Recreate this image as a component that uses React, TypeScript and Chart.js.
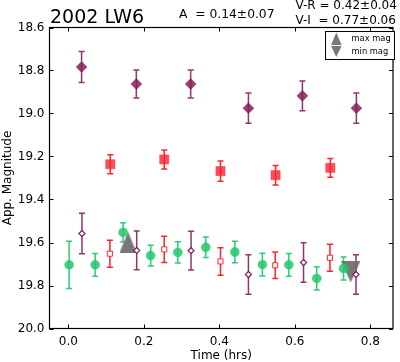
import React, { useEffect, useRef } from "react";
import { Chart, registerables } from "chart.js";

Chart.register(...registerables);

// ---------- data ----------
const xTickValues = [0.0, 0.2, 0.4, 0.6, 0.8];
const yTickValues = [18.6, 18.8, 19.0, 19.2, 19.4, 19.6, 19.8, 20.0];

// large purple diamonds
const bigDiamondTime = [0.035, 0.18, 0.324, 0.477, 0.62, 0.763];
const bigDiamondMag = [18.784, 18.863, 18.863, 18.975, 18.918, 18.975];
const bigDiamondErr = [0.072, 0.065, 0.065, 0.07, 0.069, 0.07];

// large red squares
const bigSquareTime = [0.111, 0.254, 0.403, 0.549, 0.694];
const bigSquareMag = [19.236, 19.214, 19.268, 19.287, 19.253];
const bigSquareErr = [0.044, 0.044, 0.047, 0.045, 0.044];

// green circles
const circleTime = [0.002, 0.071, 0.145, 0.218, 0.29, 0.364, 0.441, 0.514, 0.584, 0.658, 0.729];
const circleMag = [19.704, 19.704, 19.553, 19.661, 19.646, 19.622, 19.644, 19.703, 19.704, 19.767, 19.721];
const circleErr = [0.11, 0.053, 0.045, 0.048, 0.049, 0.048, 0.05, 0.053, 0.053, 0.054, 0.053];

// small open purple diamonds
const smallDiamondTime = [0.036, 0.181, 0.325, 0.477, 0.623, 0.762];
const smallDiamondMag = [19.558, 19.637, 19.638, 19.749, 19.693, 19.749];
const smallDiamondErr = [0.094, 0.09, 0.09, 0.092, 0.092, 0.092];

// small open red squares
const smallSquareTime = [0.11, 0.254, 0.403, 0.548, 0.693];
const smallSquareMag = [19.652, 19.632, 19.688, 19.706, 19.671];
const smallSquareErr = [0.063, 0.061, 0.064, 0.062, 0.063];

// max / min magnitude markers
const maxMagTime = [0.158];
const maxMagValue = [19.598];
const minMagTime = [0.748];
const minMagValue = [19.737];

const titleText = "2002 LW6";
const ampText = "A  = 0.14\u00b10.07";
const vrText = "V-R = 0.42\u00b10.04";
const viText = "V-I  = 0.77\u00b10.06";
const xTitle = "Time (hrs)";
const yTitle = "App. Magnitude";
const legendLabels = ["max mag", "min mag"];

const FONT = "'DejaVu Sans', 'Bitstream Vera Sans', sans-serif";
const GRAY = "rgba(105,105,105,0.9)";

const pts = (xs: number[], ys: number[]) => xs.map((x, i) => ({ x, y: ys[i] }));

function triangleCanvas(w: number, h: number, up: boolean, fill: string) {
  const c = document.createElement("canvas");
  c.width = w;
  c.height = h;
  const g = c.getContext("2d")!;
  g.fillStyle = fill;
  g.beginPath();
  if (up) {
    g.moveTo(w / 2, 0);
    g.lineTo(w, h);
    g.lineTo(0, h);
  } else {
    g.moveTo(0, 0);
    g.lineTo(w, 0);
    g.lineTo(w / 2, h);
  }
  g.closePath();
  g.fill();
  return c;
}

const errorBarsPlugin = {
  id: "errorBars",
  beforeDatasetsDraw(chart: any) {
    const ctx = chart.ctx;
    const ys = chart.scales.y;
    chart.data.datasets.forEach((ds: any, i: number) => {
      if (!ds.errors) return;
      const meta = chart.getDatasetMeta(i);
      ctx.save();
      ctx.strokeStyle = ds.errorColor;
      ctx.lineWidth = 1.5;
      meta.data.forEach((el: any, j: number) => {
        const v = ds.data[j].y;
        const e = ds.errors[j];
        const t = ys.getPixelForValue(v - e);
        const b = ys.getPixelForValue(v + e);
        const x = el.x;
        const cw = ds.capHalf || 3;
        ctx.beginPath();
        ctx.moveTo(x, t);
        ctx.lineTo(x, b);
        ctx.moveTo(x - cw, t);
        ctx.lineTo(x + cw, t);
        ctx.moveTo(x - cw, b);
        ctx.lineTo(x + cw, b);
        ctx.stroke();
      });
      ctx.restore();
    });
  },
};

const framePlugin = {
  id: "frame",
  afterDatasetsDraw(chart: any) {
    const { ctx, chartArea } = chart;
    const { left, right, top, bottom } = chartArea;
    const xs = chart.scales.x;
    const ys = chart.scales.y;
    ctx.save();
    ctx.strokeStyle = "#000";
    ctx.lineWidth = 1;
    ctx.beginPath();
    xTickValues.forEach((v) => {
      const p = Math.round(xs.getPixelForValue(v)) + 0.5;
      ctx.moveTo(p, bottom);
      ctx.lineTo(p, bottom - 4);
      ctx.moveTo(p, top);
      ctx.lineTo(p, top + 4);
    });
    yTickValues.forEach((v) => {
      const p = Math.round(ys.getPixelForValue(v)) + 0.5;
      ctx.moveTo(left, p);
      ctx.lineTo(left + 4, p);
      ctx.moveTo(right, p);
      ctx.lineTo(right - 4, p);
    });
    ctx.stroke();
    ctx.lineWidth = 1.2;
    ctx.strokeRect(left, top, right - left, bottom - top);
    ctx.restore();
  },
};

const decorPlugin = {
  id: "decor",
  afterDraw(chart: any) {
    const { ctx, chartArea } = chart;
    ctx.save();
    ctx.fillStyle = "#000";
    ctx.textBaseline = "alphabetic";
    ctx.textAlign = "left";
    ctx.font = `19px ${FONT}`;
    ctx.fillText(titleText, 50, 22.5);
    ctx.font = `12.3px ${FONT}`;
    ctx.fillText(ampText, 179, 17.5);
    ctx.font = `12px ${FONT}`;
    ctx.fillText(vrText, 295.5, 8.5);
    ctx.fillText(viText, 295.5, 24);

    // axis titles
    ctx.textAlign = "center";
    ctx.font = `12px ${FONT}`;
    ctx.fillText(xTitle, (chartArea.left + chartArea.right) / 2, 359);
    ctx.save();
    ctx.translate(10.5, (chartArea.top + chartArea.bottom) / 2);
    ctx.rotate(-Math.PI / 2);
    ctx.fillText(yTitle, 0, 0);
    ctx.restore();

    // legend box
    const lx = 325.5, ly = 31.5, lw = 69, lh = 28;
    ctx.fillStyle = "#fff";
    ctx.fillRect(lx, ly, lw, lh);
    ctx.strokeStyle = "#000";
    ctx.lineWidth = 1;
    ctx.strokeRect(lx, ly, lw, lh);
    ctx.fillStyle = GRAY;
    ctx.beginPath();
    ctx.moveTo(336.3, 32.5);
    ctx.lineTo(341.6, 45);
    ctx.lineTo(331, 45);
    ctx.closePath();
    ctx.fill();
    ctx.beginPath();
    ctx.moveTo(331, 46);
    ctx.lineTo(341.6, 46);
    ctx.lineTo(336.3, 57);
    ctx.closePath();
    ctx.fill();
    ctx.fillStyle = "#000";
    ctx.textAlign = "left";
    ctx.font = `8.3px ${FONT}`;
    ctx.fillText(legendLabels[0], 351.5, 40.5);
    ctx.fillText(legendLabels[1], 351.5, 54);
    ctx.restore();
  },
};

export default function App() {
  const ref = useRef<HTMLCanvasElement | null>(null);

  useEffect(() => {
    document.body.style.margin = "0";
    const canvas = ref.current;
    if (!canvas) return;

    const upTri = triangleCanvas(17, 21, true, GRAY);
    const downTri = triangleCanvas(19, 21, false, GRAY);

    const chart = new Chart(canvas, {
      type: "scatter",
      data: {
        datasets: [
          {
            label: "max mag",
            data: pts(maxMagTime, maxMagValue),
            pointStyle: upTri as any,
            order: 10,
          },
          {
            label: "min mag",
            data: pts(minMagTime, minMagValue),
            pointStyle: downTri as any,
            order: 10,
          },
          {
            label: "big diamonds",
            data: pts(bigDiamondTime, bigDiamondMag),
            pointStyle: "rectRot",
            pointRadius: 5.5,
            backgroundColor: "rgba(135,30,90,0.85)",
            borderColor: "rgba(135,30,90,0.85)",
            borderWidth: 0.5,
            errors: bigDiamondErr,
            errorColor: "rgba(125,20,80,0.85)",
            capHalf: 3,
            order: 5,
          } as any,
          {
            label: "big squares",
            data: pts(bigSquareTime, bigSquareMag),
            pointStyle: "rect",
            pointRadius: 6.5,
            backgroundColor: "rgba(255,35,45,0.8)",
            borderColor: "rgba(255,35,45,0.8)",
            borderWidth: 0.5,
            errors: bigSquareErr,
            errorColor: "rgba(255,10,20,0.9)",
            capHalf: 3,
            order: 5,
          } as any,
          {
            label: "circles",
            data: pts(circleTime, circleMag),
            pointStyle: "circle",
            pointRadius: 4.5,
            backgroundColor: "rgba(35,200,110,0.85)",
            borderColor: "rgba(35,200,110,0.85)",
            borderWidth: 0.5,
            errors: circleErr,
            errorColor: "rgba(20,200,100,0.9)",
            capHalf: 3,
            order: 3,
          } as any,
          {
            label: "small diamonds",
            data: pts(smallDiamondTime, smallDiamondMag),
            pointStyle: "rectRot",
            pointRadius: 3,
            backgroundColor: "#ffffff",
            borderColor: "rgba(125,20,80,0.9)",
            borderWidth: 1.3,
            errors: smallDiamondErr,
            errorColor: "rgba(125,20,80,0.85)",
            capHalf: 3,
            order: 2,
          } as any,
          {
            label: "small squares",
            data: pts(smallSquareTime, smallSquareMag),
            pointStyle: "rect",
            pointRadius: 3.6,
            backgroundColor: "#ffffff",
            borderColor: "rgba(255,20,30,0.9)",
            borderWidth: 1,
            errors: smallSquareErr,
            errorColor: "rgba(255,10,20,0.9)",
            capHalf: 3,
            order: 2,
          } as any,
        ],
      },
      options: {
        animation: false,
        responsive: false,
        devicePixelRatio: 1,
        layout: { padding: { top: 27.5, right: 2, left: 0, bottom: 0 } },
        plugins: {
          legend: { display: false },
          tooltip: { enabled: false },
          title: { display: false },
        },
        scales: {
          x: {
            type: "linear",
            min: -0.05,
            max: 0.86,
            grid: { display: false, drawTicks: false },
            border: { display: false },
            afterFit: (s: any) => {
              s.height = 33.5;
            },
            afterBuildTicks: (s: any) => {
              s.ticks = xTickValues.map((v) => ({ value: v }));
            },
            ticks: {
              autoSkip: false,
              maxRotation: 0,
              padding: 6,
              color: "#000",
              font: { family: FONT, size: 12 },
              callback: (v: any) => Number(v).toFixed(1),
            },
          },
          y: {
            type: "linear",
            reverse: true,
            min: 18.6,
            max: 20.0,
            grid: { display: false, drawTicks: false },
            border: { display: false },
            afterFit: (s: any) => {
              s.width = 49.5;
            },
            afterBuildTicks: (s: any) => {
              s.ticks = yTickValues.map((v) => ({ value: v }));
            },
            ticks: {
              autoSkip: false,
              padding: 5,
              color: "#000",
              font: { family: FONT, size: 12 },
              callback: (v: any) => Number(v).toFixed(1),
            },
          },
        },
      },
      plugins: [errorBarsPlugin, framePlugin, decorPlugin],
    } as any);

    return () => chart.destroy();
  }, []);

  return <canvas ref={ref} width={400} height={362} style={{ display: "block" }} />;
}
